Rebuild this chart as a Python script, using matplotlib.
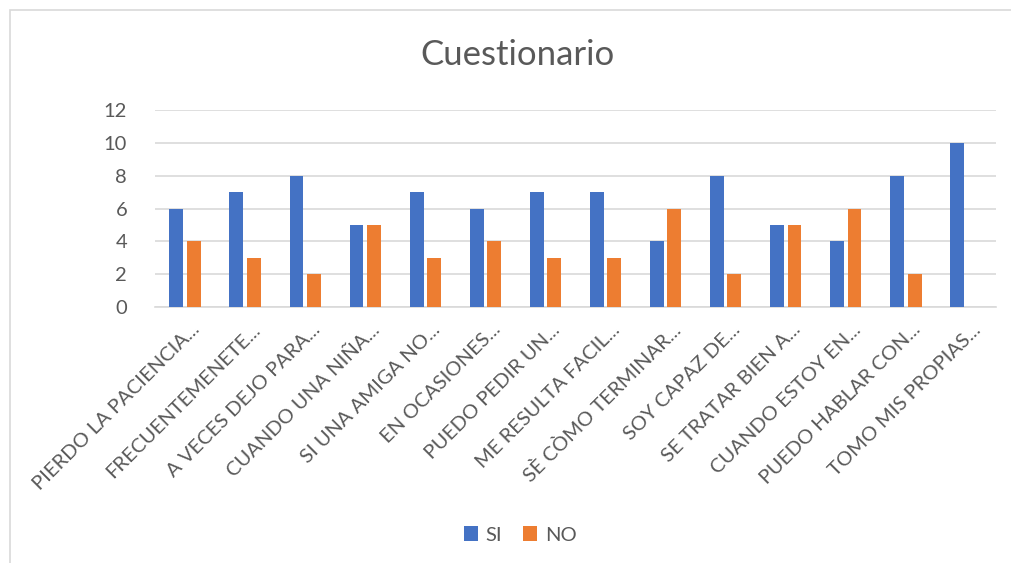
import matplotlib.pyplot as plt
import numpy as np
from matplotlib.patches import Rectangle
from matplotlib.transforms import ScaledTranslation

plt.rcParams['font.family'] = ['Lato', 'DejaVu Sans']

preguntas = ['PIERDO LA PACIENCIA...', 'FRECUENTEMENETE...', 'A VECES DEJO PARA...',
             'CUANDO UNA NIÑA...', 'SI UNA AMIGA NO...', 'EN OCASIONES...',
             'PUEDO PEDIR UN...', 'ME RESULTA FACIL...', 'SÈ CÒMO TERMINAR...',
             'SOY CAPAZ DE...', 'SE TRATAR BIEN A...', 'CUANDO ESTOY EN...',
             'PUEDO HABLAR CON...', 'TOMO MIS PROPIAS...']
si = [6, 7, 8, 5, 7, 6, 7, 7, 4, 8, 5, 4, 8, 10]
no = [4, 3, 2, 5, 3, 4, 3, 3, 6, 2, 5, 6, 2, 0]

gris = '#595959'
fig = plt.figure(figsize=(10.12, 5.63), dpi=100)

# marco del gráfico
fig.patches.append(Rectangle((10 / 1012, -0.1), 1.1, 1 - 10 / 563 + 0.1,
                             transform=fig.transFigure, fill=False,
                             edgecolor='#d9d9d9', linewidth=1.2))

ax = fig.add_axes([155 / 1012, 1 - 307 / 563, (996 - 155) / 1012, (307 - 110) / 563])
x = np.arange(len(preguntas))
ax.bar(x - 0.145, si, width=0.23, color='#4472C4', label='SI', zorder=3)
ax.bar(x + 0.145, no, width=0.23, color='#ED7D31', label='NO', zorder=3)

ax.set_xlim(-0.5, len(preguntas) - 0.5)
ax.set_ylim(0, 12)
ax.set_yticks(range(0, 13, 2))
ax.grid(axis='y', color='#d9d9d9', linewidth=1.2, zorder=0)
for s in ['top', 'right', 'left']:
    ax.spines[s].set_visible(False)
ax.spines['bottom'].set_color('#d9d9d9')
ax.spines['bottom'].set_linewidth(1.2)
ax.tick_params(length=0, colors=gris, labelsize=14.5)
ax.tick_params(axis='y', pad=20)
ax.tick_params(axis='x', pad=10)
ax.set_xticks(x)
ax.set_xticklabels(preguntas, rotation=45, ha='right', rotation_mode='anchor')
desplaza = ScaledTranslation(6 / 100, 0, fig.dpi_scale_trans)
for lbl in ax.get_xticklabels():
    lbl.set_transform(lbl.get_transform() + desplaza)

fig.text(517 / 1012, 1 - 55 / 563, 'Cuestionario', ha='center', va='center',
         fontsize=25, color=gris)
fig.legend(loc='center', bbox_to_anchor=(520 / 1012, 1 - 535 / 563), ncol=2,
           frameon=False, fontsize=14.5, labelcolor=gris, handlelength=0.7,
           handleheight=0.7, columnspacing=1.0, handletextpad=0.4)

fig.savefig('out.png', dpi=100)
